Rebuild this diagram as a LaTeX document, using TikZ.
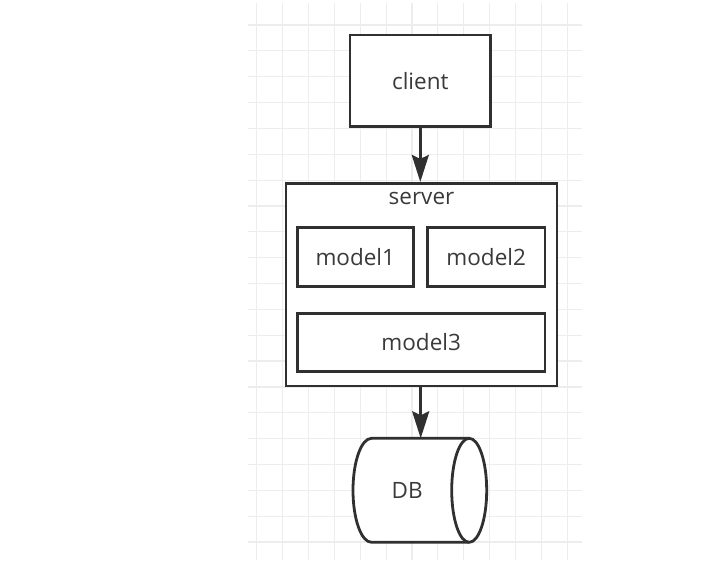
\documentclass[tikz,border=0pt]{standalone}
\usepackage{fontspec}
\setmainfont{Open Sans}
\usetikzlibrary{arrows.meta,calc}
\definecolor{ink}{HTML}{303030}
\definecolor{txt}{HTML}{3A3A3A}
\definecolor{gridc}{HTML}{EDEDED}
\tikzset{
  gridline/.style={draw=gridc, line width=1.2pt},
  boxed/.style={draw=ink, line width=2.8pt, fill=white, rectangle, inner sep=0pt, text=txt, font=\fontsize{22.5}{25}\selectfont},
  plain/.style={inner sep=0pt, text=txt, font=\fontsize{22.5}{25}\selectfont},
  conn/.style={draw=ink, line width=2.8pt, -{Stealth[length=27pt, width=17pt, inset=4pt]}},
  cyl/.style={draw=ink, line width=2.8pt, fill=white, line join=round}
}
\begin{document}
\begin{tikzpicture}[x=1pt,y=-1pt]
\useasboundingbox[fill=white] (0,0) rectangle (707,560);
% grid
\foreach \i in {0,...,12} \draw[gridline] ({256.7+25.88*\i},3) -- ({256.7+25.88*\i},560);
\foreach \j in {0,...,20} \draw[gridline] (248,{25+25.85*\j}) -- (582,{25+25.85*\j});
% client
\node[boxed, minimum width=140.7pt, minimum height=91.7pt] (client) at (420.3,80.8) {client};
% server container
\node[boxed, minimum width=271pt, minimum height=202.7pt] (server) at (421.5,284.7) {};
\node[plain] (srvlbl) at (421.5,198) {server};
\node[boxed, minimum width=116pt, minimum height=59.4pt] (m1) at (355.3,257) {model1};
\node[boxed, minimum width=117.7pt, minimum height=59.4pt] (m2) at (486.2,257) {model2};
\node[boxed, minimum width=247.7pt, minimum height=58.4pt] (m3) at (421.2,342.5) {model3};
% DB cylinder
\draw[cyl] (469.2,438.3) -- (371.5,438.3)
   arc[start angle=270, end angle=90, x radius=18.5, y radius=52] -- (469.2,542.3);
\draw[cyl] (469.2,490.3) ellipse[x radius=17.5, y radius=52];
\node[plain] (db) at (407.2,490.3) {DB};
\coordinate (dbtop) at (420.7,438.3);
% connectors
\draw[conn] (client.south) -- (client.south |- server.north);
\draw[conn] (server.south -| dbtop) -- (dbtop);
\end{tikzpicture}
\end{document}
